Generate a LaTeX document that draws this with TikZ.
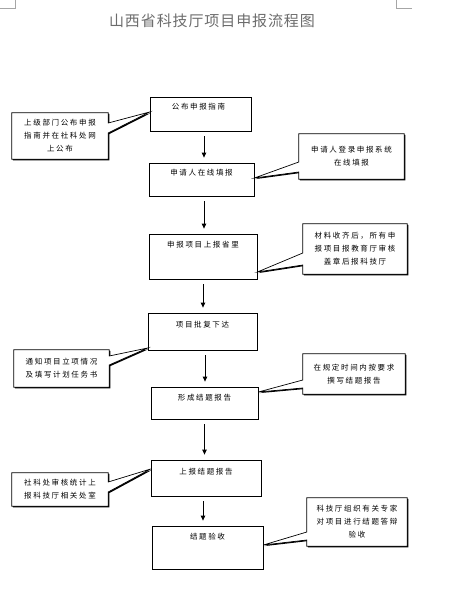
\documentclass[tikz,border=0pt]{standalone}
\usepackage{fontspec}
\newfontfamily\cjk[LetterSpace=22]{Noto Sans CJK SC}
\newfontfamily\cjktitle[LetterSpace=6]{Noto Sans CJK SC}
\usetikzlibrary{arrows.meta,backgrounds}
\begin{document}
\begin{tikzpicture}[x=1pt,y=-1pt,
  mainbox/.style={draw,line width=0.8pt,inner sep=0pt},
  boxtext/.style={inner sep=0pt,font=\cjk\fontsize{7.5}{10}\selectfont},
  calltext/.style={inner sep=0pt,align=center,font=\cjk\fontsize{7.5}{13}\selectfont},
  flow/.style={-{Triangle[length=5pt,width=4.5pt]},line width=0.8pt,shorten <=5pt,shorten >=5pt},
  callshape/.style={fill=white,draw=black,line width=0.7pt,line join=miter},
  callshadow/.style={fill=black,transform canvas={shift={(1.1pt,-1.1pt)}}},
  callR/.style n args={4}{insert path={(#1.north west) -- (#1.north east) -- (#1.east |- 0,#2) -- (#4) -- (#1.east |- 0,#3) -- (#1.south east) -- (#1.south west) -- cycle}},
  callL/.style n args={4}{insert path={(#1.north west) -- (#1.north east) -- (#1.south east) -- (#1.south west) -- (#1.west |- 0,#3) -- (#4) -- (#1.west |- 0,#2) -- cycle}},
  cornermark/.style={draw=gray!70,line width=0.7pt}
]
\useasboundingbox (0,0) rectangle (451,598);

% corner marks
\coordinate (m1a) at (0,8); \coordinate (m1b) at (15,8); \coordinate (m1c) at (15,0);
\draw[cornermark] (m1a) -- (m1b) -- (m1c);
\coordinate (m2a) at (412,8); \coordinate (m2b) at (396,8); \coordinate (m2c) at (396,0);
\draw[cornermark] (m2a) -- (m2b) -- (m2c);

% title
\node[inner sep=0pt,text=gray!85!black,font=\cjktitle\fontsize{15}{16}\selectfont] (title) at (212,21) {山西省科技厅项目申报流程图};

% main boxes
\node[mainbox,minimum width=101pt,minimum height=34pt] (b1) at (200.5,114) {};
\node[mainbox,minimum width=105pt,minimum height=33pt] (b2) at (201.5,179.5) {};
\node[mainbox,minimum width=108pt,minimum height=45pt] (b3) at (203,256.5) {};
\node[mainbox,minimum width=109pt,minimum height=37pt] (b4) at (202.5,331.5) {};
\node[mainbox,minimum width=107pt,minimum height=32pt] (b5) at (204.5,403) {};
\node[mainbox,minimum width=110pt,minimum height=36pt] (b6) at (206,478) {};
\node[mainbox,minimum width=111pt,minimum height=43pt] (b7) at (207.5,547.5) {};

\node[boxtext] (l1) at ([xshift=-2pt,yshift=-10pt]b1.north) {公布申报指南};
\node[boxtext] (l2) at ([yshift=-10pt]b2.north) {申请人在线填报};
\node[boxtext] (l3) at ([yshift=-11pt]b3.north) {申报项目上报省里};
\node[boxtext] (l4) at ([yshift=-12pt]b4.north) {项目批复下达};
\node[boxtext] (l5) at ([yshift=-11pt]b5.north) {形成结题报告};
\node[boxtext] (l6) at ([yshift=-12pt]b6.north) {上报结题报告};
\node[boxtext] (l7) at ([yshift=-11pt]b7.north) {结题验收};

% flow arrows
\draw[flow] ([xshift=3.5pt]b1.south) -- ([xshift=3.5pt]b1.south |- b2.north);
\draw[flow] ([xshift=2.5pt]b2.south) -- ([xshift=2.5pt]b2.south |- b3.north);
\draw[flow] (b3.south) -- (b3.south |- b4.north);
\draw[flow] ([xshift=2.5pt]b4.south) -- ([xshift=2.5pt]b4.south |- b5.north);
\draw[flow] (b5.south) -- (b5.south |- b6.north);
\draw[flow] ([xshift=-3pt]b6.south) -- ([xshift=-3pt]b6.south |- b7.north);

% callout texts
\node[calltext,minimum width=96pt,minimum height=46pt] (c1) at (60,136) {上级部门公布申报\\指南并在社科处网\\上公布};
\node[calltext,minimum width=105pt,minimum height=45pt] (c2) at (351.5,156.5) {申请人登录申报系统\\在线填报};
\node[calltext,minimum width=104pt,minimum height=50pt] (c3) at (355,249) {材料收齐后，所有申\\报项目报教育厅审核\\盖章后报科技厅};
\node[calltext,minimum width=95pt,minimum height=37pt] (c4) at (61.5,368.5) {通知项目立项情况\\及填写计划任务书};
\node[calltext,minimum width=102pt,minimum height=40pt] (c5) at (354,374) {在规定时间内按要求\\撰写结题报告};
\node[calltext,minimum width=96pt,minimum height=33pt] (c6) at (60,489.5) {社科处审核统计上\\报科技厅相关处室};
\node[calltext,minimum width=100pt,minimum height=48pt] (c7) at (357,522) {科技厅组织有关专家\\对项目进行结题答辩\\验收};

% pointer tips
\coordinate (p1) at (b1.west |- 0,112);
\coordinate (p2) at (b2.east |- 0,178);
\coordinate (p3) at (b3.east |- 0,272);
\coordinate (p4) at (b4.west |- 0,348);
\coordinate (p5) at (b5.east |- 0,392);
\coordinate (p6) at (b6.west |- 0,469);
\coordinate (p7) at (b7.east |- 0,545);

\begin{pgfonlayer}{background}
\path[callshadow,callR={c1}{123}{133}{p1}];
\path[callshape,callR={c1}{123}{133}{p1}];
\path[callshadow,callL={c2}{162}{172}{p2}];
\path[callshape,callL={c2}{162}{172}{p2}];
\path[callshadow,callL={c3}{253}{265}{p3}];
\path[callshape,callL={c3}{253}{265}{p3}];
\path[callshadow,callR={c4}{356}{365}{p4}];
\path[callshape,callR={c4}{356}{365}{p4}];
\path[callshadow,callL={c5}{380}{388}{p5}];
\path[callshape,callL={c5}{380}{388}{p5}];
\path[callshadow,callR={c6}{482}{492}{p6}];
\path[callshape,callR={c6}{482}{492}{p6}];
\path[callshadow,callL={c7}{532}{540}{p7}];
\path[callshape,callL={c7}{532}{540}{p7}];
\end{pgfonlayer}
\end{tikzpicture}
\end{document}
